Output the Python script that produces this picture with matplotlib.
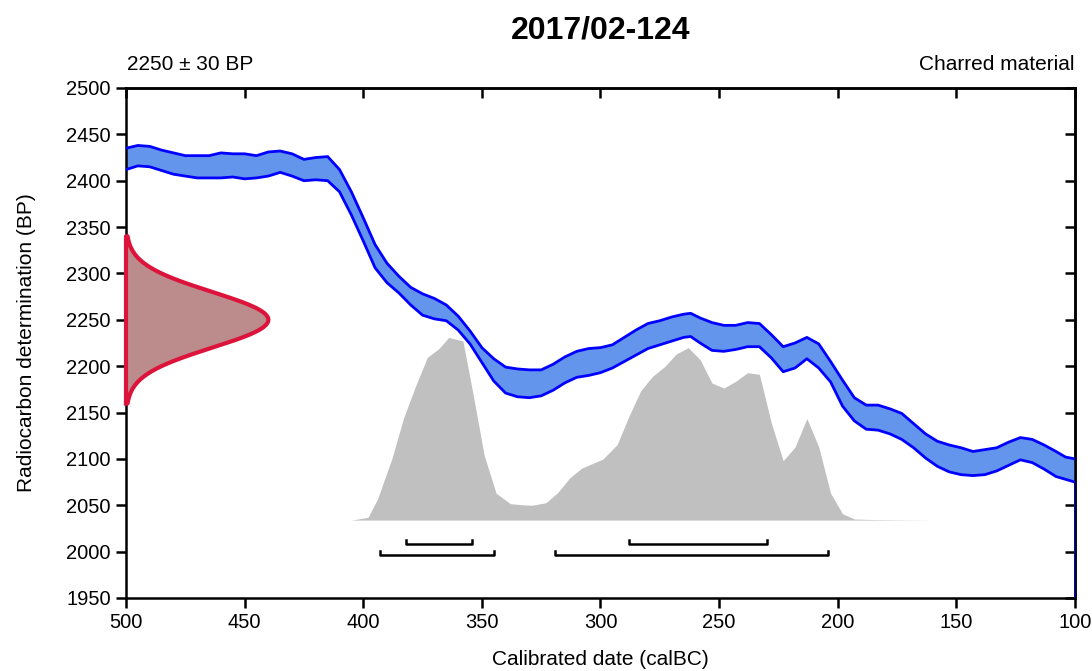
import numpy as np
import matplotlib
matplotlib.use("Agg")
import matplotlib.pyplot as plt

plt.rcParams['font.family'] = ['Liberation Sans', 'DejaVu Sans']

# Sample info
sample_id = "2017/02-124"
c14_age = 2250
c14_err = 30
material = "Charred material"

# Calibration curve band (cal BC, upper / lower BP)
cal_x = [500, 495, 490, 485, 480, 475, 470, 465, 460, 455, 450, 445, 440, 435, 430,
         425, 420, 415, 410, 405, 400, 395, 390, 385, 380, 375, 370, 365, 360, 355,
         350, 345, 340, 335, 330, 325, 320, 315, 310, 305, 300, 295, 290, 285, 280,
         275, 270, 265, 262, 258, 253, 248, 243, 238, 233, 228, 223, 218, 213, 208,
         203, 198, 193, 188, 183, 178, 173, 168, 163, 158, 153, 148, 143, 138, 133,
         128, 123, 118, 113, 108, 104, 100]
cal_hi = [2435, 2438, 2437, 2433, 2430, 2427, 2427, 2427, 2430, 2429, 2429, 2427, 2431, 2432, 2429,
          2423, 2425, 2426, 2412, 2388, 2360, 2331, 2311, 2297, 2285, 2278, 2273, 2266, 2254, 2238,
          2220, 2208, 2199, 2197, 2196, 2196, 2202, 2210, 2216, 2219, 2220, 2223, 2231, 2239, 2246,
          2249, 2253, 2256, 2257, 2252, 2247, 2244, 2244, 2247, 2246, 2234, 2221, 2225, 2231, 2224,
          2205, 2185, 2166, 2158, 2158, 2154, 2149, 2138, 2127, 2119, 2115, 2112, 2108, 2110, 2112,
          2118, 2123, 2121, 2115, 2108, 2102, 2100]
cal_lo = [2412, 2416, 2415, 2411, 2407, 2405, 2403, 2403, 2403, 2404, 2402, 2403, 2405, 2409, 2405,
          2400, 2401, 2400, 2388, 2363, 2335, 2306, 2290, 2279, 2266, 2255, 2251, 2249, 2239, 2224,
          2204, 2184, 2171, 2167, 2166, 2168, 2174, 2182, 2188, 2190, 2193, 2198, 2205, 2212, 2219,
          2223, 2227, 2231, 2232, 2225, 2217, 2216, 2218, 2221, 2221, 2209, 2194, 2198, 2208, 2198,
          2183, 2157, 2141, 2132, 2131, 2127, 2121, 2112, 2101, 2092, 2086, 2083, 2082, 2083, 2087,
          2093, 2099, 2096, 2089, 2081, 2078, 2075]

# Calibrated probability (relative, peak = 100)
prob_x = [405, 398, 394, 388, 383, 378, 373, 368, 364, 358, 354, 349, 344, 338, 333, 329,
          323, 318, 313, 308, 303, 299, 293, 288, 283, 278, 273, 268, 263, 258, 253, 248,
          243, 238, 233, 228, 223, 218, 213, 208, 203, 198, 193, 185, 175, 165, 160]
prob_y = [0, 1.5, 11.5, 33.4, 55.9, 73.2, 89.1, 94, 100, 98.1, 70.9, 35.3, 14.7, 9.0, 8.4, 8.1,
          9.5, 15.1, 23.1, 28.4, 31.2, 33.4, 41.3, 56.9, 70.9, 78.8, 84, 91, 94.4, 87.8, 75, 72.3,
          76, 80.7, 79.8, 53.2, 32.5, 40, 55.6, 40, 14.7, 3.5, 0.6, 0.3, 0.15, 0.05, 0]

# Ranges (cal BC)
range_68 = [(382, 354), (288, 230)]
range_95 = [(393, 345), (319, 204)]

fig = plt.figure(figsize=(10.92, 6.71), dpi=100)
ax = fig.add_axes([0.1154, 0.1088, 0.869, 0.7601])

# calibration curve
ax.fill_between(cal_x, cal_lo, cal_hi, color='#6495ED', lw=0, zorder=2)
ax.plot(cal_x, cal_hi, color='#0000FF', lw=2, zorder=3)
ax.plot(cal_x, cal_lo, color='#0000FF', lw=2, zorder=3)
ax.plot([cal_x[-1], cal_x[-1]], [cal_lo[-1], 1950], color='#0000FF', lw=2, zorder=3)

# calibrated distribution
base = 2034
scale = 1.97
ax.fill_between(prob_x, base, base + scale * np.array(prob_y), color='#C0C0C0', lw=0, zorder=1)

# radiocarbon measurement
yy = np.linspace(c14_age - 3 * c14_err, c14_age + 3 * c14_err, 200)
dens = np.exp(-0.5 * ((yy - c14_age) / c14_err) ** 2)
xx = 500 - 60 * dens
ax.fill_betweenx(yy, 500, xx, color='#BC8C8C', lw=0, zorder=4)
ax.plot(np.r_[500, xx, 500, 500], np.r_[yy[0], yy, yy[-1], yy[0]], color='#DC143C', lw=3,
        zorder=5, solid_joinstyle='round', clip_on=False)

# range brackets
for (a, b) in range_68:
    ax.plot([a, a, b, b], [2013, 2008, 2008, 2013], color='black', lw=1.8, zorder=4)
for (a, b) in range_95:
    ax.plot([a, a, b, b], [2001, 1996, 1996, 2001], color='black', lw=1.8, zorder=4)

ax.set_xlim(500, 100)
ax.set_ylim(1950, 2500)
ax.set_xticks(range(500, 99, -50))
ax.set_yticks(range(1950, 2501, 50))
for s in ax.spines.values():
    s.set_linewidth(1.8)
ax.tick_params(direction='out', length=7, width=1.8, labelsize=14.5, pad=4)

top = ax.secondary_xaxis('top')
top.set_xticks(range(500, 99, -50))
top.tick_params(direction='in', length=7, width=1.8, labeltop=False)
top.spines['top'].set_linewidth(1.8)
right = ax.secondary_yaxis('right')
right.set_yticks(range(1950, 2501, 50))
right.tick_params(direction='in', length=7, width=1.8, labelright=False)
right.spines['right'].set_linewidth(1.8)

ax.set_xlabel('Calibrated date (calBC)', fontsize=15, labelpad=13)
ax.set_ylabel('Radiocarbon determination (BP)', fontsize=15, labelpad=22)

fig.text(0.55, 0.955, sample_id, ha='center', va='center', fontsize=23, fontweight='bold')
fig.text(0.116, 0.89, f"{c14_age} \u00b1 {c14_err} BP", ha='left', va='bottom', fontsize=15)
fig.text(0.9844, 0.89, material, ha='right', va='bottom', fontsize=15)

fig.savefig('out.png', dpi=100)
